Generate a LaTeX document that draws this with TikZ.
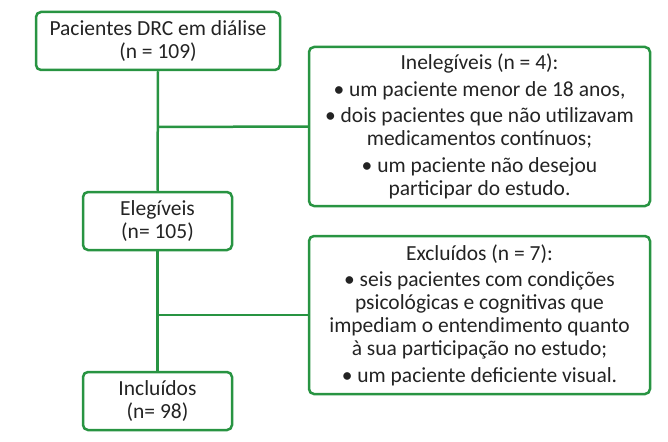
\documentclass[tikz,border=0pt]{standalone}
\usepackage{fontspec}
\setmainfont{Carlito}
\definecolor{boxgreen}{RGB}{40,148,66}
\definecolor{txt}{RGB}{35,35,35}
\begin{document}
\begin{tikzpicture}[x=1pt,y=-1pt,
  box/.style={draw=boxgreen,line width=2.5pt,rounded corners=5pt,inner sep=0pt,
    align=center,text=txt,font=\fontsize{21.5}{23}\selectfont},
  link/.style={draw=boxgreen,line width=2.5pt}]
\useasboundingbox (0,0) rectangle (668,441);
\node[box,minimum width=244,minimum height=58] (pac) at (158,41)
  {Pacientes DRC em diálise\\(n = 109)};
\node[box,minimum width=149,minimum height=58] (eleg) at (157.5,221)
  {Elegíveis\\(n= 105)};
\node[box,minimum width=149,minimum height=58] (incl) at (157.5,401)
  {Incluídos\\(n= 98)};
\node[box,minimum width=341,minimum height=159] (inel) at (479.5,126.5)
  {Inelegíveis (n = 4):\\[3.5pt]• um paciente menor de 18 anos,\\[3.5pt]• dois pacientes que não utilizavam\\medicamentos contínuos;\\[3.5pt]• um paciente não desejou\\participar do estudo.};
\node[box,minimum width=341,minimum height=158] (excl) at (479.5,315)
  {Excluídos (n = 7):\\[3.5pt]• seis pacientes com condições\\psicológicas e cognitivas que\\impediam o entendimento quanto\\à sua participação no estudo;\\[3.5pt]• um paciente deficiente visual.};
\coordinate (b1) at (158,127);
\coordinate (b2) at (158,315);
\draw[link] (pac.south) -- (eleg.north);
\draw[link] (eleg.south) -- (incl.north);
\draw[link] (b1) -- (inel.west);
\draw[link] (b2) -- (excl.west);
\end{tikzpicture}
\end{document}
